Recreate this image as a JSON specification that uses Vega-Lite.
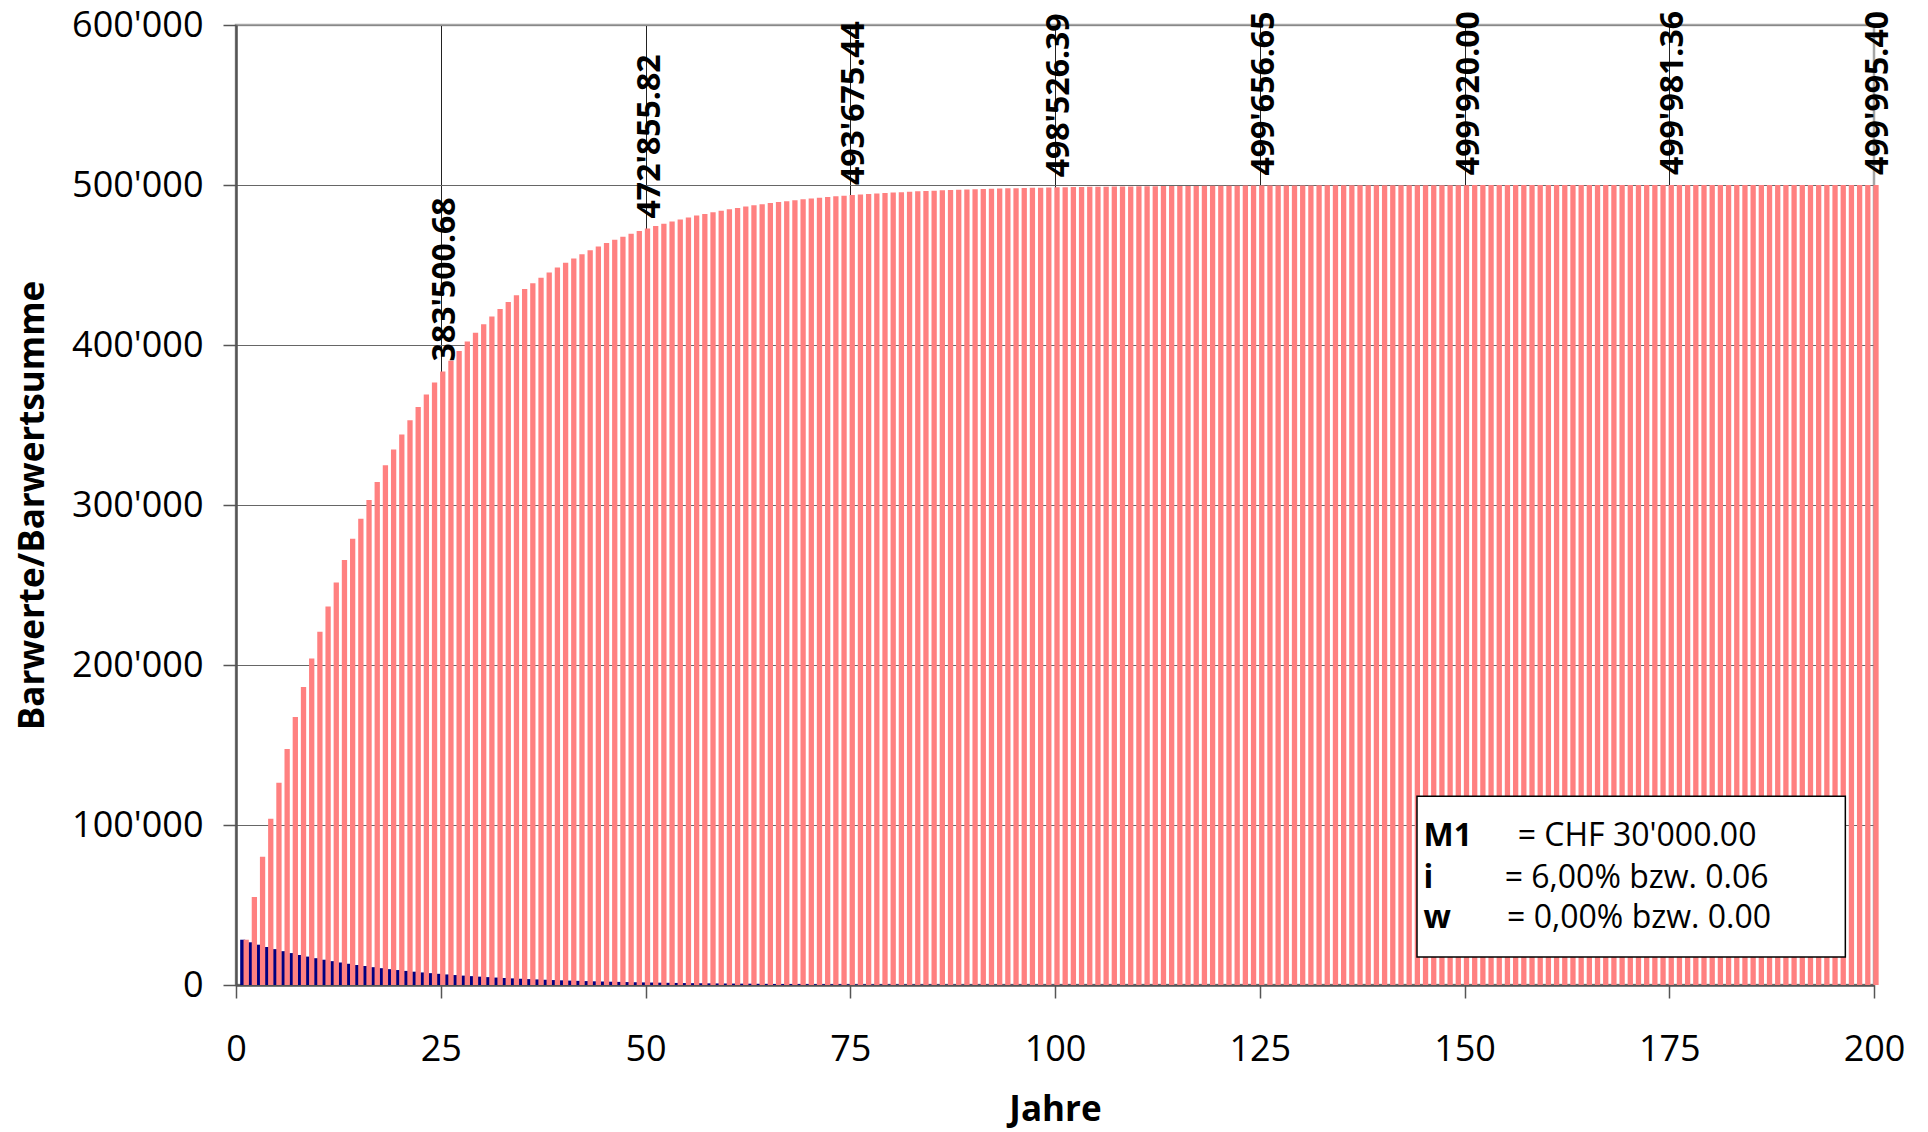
{
"$schema": "https://vega.github.io/schema/vega-lite/v6.json",
"width": 1638,
"height": 960,
"autosize": "none",
"padding": {"left": 236, "top": 25, "right": 54, "bottom": 147},
"background": "white",
"config": {
  "locale": {"number": {"decimal": ".", "thousands": "'", "grouping": [3], "currency": ["", ""]}},
  "font": "Open Sans",
  "view": {"stroke": "#a6a6a6", "strokeWidth": 2.5}
},
"datasets": {
"pv": [
{"t":1,"b":28301.89,"s":28301.89},{"t":2,"b":26699.90,"s":55001.79},{"t":3,"b":25188.58,"s":80190.37},{"t":4,"b":23762.81,"s":103953.2},{"t":5,"b":22417.75,"s":126370.8},
{"t":6,"b":21148.82,"s":147519.7},{"t":7,"b":19951.71,"s":167471.5},{"t":8,"b":18822.37,"s":186293.8},{"t":9,"b":17756.95,"s":204050.8},{"t":10,"b":16751.84,"s":220802.7},
{"t":11,"b":15803.62,"s":236606.3},{"t":12,"b":14909.08,"s":251515.3},{"t":13,"b":14065.17,"s":265580.5},{"t":14,"b":13269.03,"s":278849.5},{"t":15,"b":12517.96,"s":291367.3},
{"t":16,"b":11809.40,"s":303176.7},{"t":17,"b":11140.94,"s":314317.7},{"t":18,"b":10510.32,"s":324828.0},{"t":19,"b":9915.39,"s":334743.5},{"t":20,"b":9354.15,"s":344097.5},
{"t":21,"b":8824.66,"s":352922.3},{"t":22,"b":8325.15,"s":361247.5},{"t":23,"b":7853.92,"s":369101.3},{"t":24,"b":7409.36,"s":376510.7},{"t":25,"b":6989.96,"s":383500.68},
{"t":26,"b":6594.30,"s":390095.0},{"t":27,"b":6221.04,"s":396316.0},{"t":28,"b":5868.91,"s":402184.8},{"t":29,"b":5536.71,"s":407721.5},{"t":30,"b":5223.33,"s":412944.5},
{"t":31,"b":4927.67,"s":417872.2},{"t":32,"b":4648.75,"s":422520.8},{"t":33,"b":4385.61,"s":426906.5},{"t":34,"b":4137.37,"s":431043.8},{"t":35,"b":3903.18,"s":434947.0},
{"t":36,"b":3682.25,"s":438629.2},{"t":37,"b":3473.82,"s":442103.0},{"t":38,"b":3277.19,"s":445380.2},{"t":39,"b":3091.69,"s":448471.8},{"t":40,"b":2916.67,"s":451388.8},
{"t":41,"b":2751.58,"s":454140.3},{"t":42,"b":2595.83,"s":456736.2},{"t":43,"b":2448.90,"s":459185.0},{"t":44,"b":2310.28,"s":461495.3},{"t":45,"b":2179.51,"s":463674.8},
{"t":46,"b":2056.14,"s":465731.0},{"t":47,"b":1939.75,"s":467670.8},{"t":48,"b":1829.95,"s":469500.8},{"t":49,"b":1726.37,"s":471227.2},{"t":50,"b":1628.65,"s":472855.82},
{"t":51,"b":1536.46,"s":474392.3},{"t":52,"b":1449.49,"s":475841.8},{"t":53,"b":1367.44,"s":477209.3},{"t":54,"b":1290.04,"s":478499.3},{"t":55,"b":1217.02,"s":479716.3},
{"t":56,"b":1148.13,"s":480864.5},{"t":57,"b":1083.14,"s":481947.7},{"t":58,"b":1021.83,"s":482969.5},{"t":59,"b":963.99,"s":483933.5},{"t":60,"b":909.43,"s":484842.8},
{"t":61,"b":857.95,"s":485700.8},{"t":62,"b":809.39,"s":486510.2},{"t":63,"b":763.57,"s":487273.8},{"t":64,"b":720.35,"s":487994.2},{"t":65,"b":679.58,"s":488673.7},
{"t":66,"b":641.11,"s":489314.8},{"t":67,"b":604.82,"s":489919.7},{"t":68,"b":570.58,"s":490490.3},{"t":69,"b":538.28,"s":491028.7},{"t":70,"b":507.82,"s":491536.3},
{"t":71,"b":479.07,"s":492015.5},{"t":72,"b":451.95,"s":492467.5},{"t":73,"b":426.37,"s":492893.8},{"t":74,"b":402.24,"s":493296.0},{"t":75,"b":379.47,"s":493675.44},
{"t":76,"b":357.99,"s":494033.5},{"t":77,"b":337.73,"s":494371.2},{"t":78,"b":318.61,"s":494689.8},{"t":79,"b":300.58,"s":494990.3},{"t":80,"b":283.56,"s":495274.0},
{"t":81,"b":267.51,"s":495541.5},{"t":82,"b":252.37,"s":495793.8},{"t":83,"b":238.08,"s":496032.0},{"t":84,"b":224.61,"s":496256.5},{"t":85,"b":211.89,"s":496468.5},
{"t":86,"b":199.90,"s":496668.3},{"t":87,"b":188.58,"s":496857.0},{"t":88,"b":177.91,"s":497034.8},{"t":89,"b":167.84,"s":497202.7},{"t":90,"b":158.34,"s":497361.0},
{"t":91,"b":149.38,"s":497510.3},{"t":92,"b":140.92,"s":497651.3},{"t":93,"b":132.94,"s":497784.3},{"t":94,"b":125.42,"s":497909.7},{"t":95,"b":118.32,"s":498028.0},
{"t":96,"b":111.62,"s":498139.7},{"t":97,"b":105.30,"s":498245.0},{"t":98,"b":99.34,"s":498344.3},{"t":99,"b":93.72,"s":498438.0},{"t":100,"b":88.42,"s":498526.39},
{"t":101,"b":83.41,"s":498609.8},{"t":102,"b":78.69,"s":498688.5},{"t":103,"b":74.24,"s":498762.7},{"t":104,"b":70.03,"s":498832.8},{"t":105,"b":66.07,"s":498898.8},
{"t":106,"b":62.33,"s":498961.2},{"t":107,"b":58.80,"s":499020.0},{"t":108,"b":55.47,"s":499075.5},{"t":109,"b":52.33,"s":499127.8},{"t":110,"b":49.37,"s":499177.2},
{"t":111,"b":46.58,"s":499223.7},{"t":112,"b":43.94,"s":499267.7},{"t":113,"b":41.45,"s":499309.2},{"t":114,"b":39.11,"s":499348.2},{"t":115,"b":36.89,"s":499385.2},
{"t":116,"b":34.80,"s":499420.0},{"t":117,"b":32.83,"s":499452.8},{"t":118,"b":30.98,"s":499483.7},{"t":119,"b":29.22,"s":499513.0},{"t":120,"b":27.57,"s":499540.5},
{"t":121,"b":26.01,"s":499566.5},{"t":122,"b":24.54,"s":499591.0},{"t":123,"b":23.15,"s":499614.2},{"t":124,"b":21.84,"s":499636.0},{"t":125,"b":20.60,"s":499656.65},
{"t":126,"b":19.44,"s":499676.0},{"t":127,"b":18.34,"s":499694.3},{"t":128,"b":17.30,"s":499711.7},{"t":129,"b":16.32,"s":499728.0},{"t":130,"b":15.40,"s":499743.3},
{"t":131,"b":14.52,"s":499758.0},{"t":132,"b":13.70,"s":499771.7},{"t":133,"b":12.93,"s":499784.5},{"t":134,"b":12.19,"s":499796.8},{"t":135,"b":11.50,"s":499808.3},
{"t":136,"b":10.85,"s":499819.2},{"t":137,"b":10.24,"s":499829.3},{"t":138,"b":9.66,"s":499839.0},{"t":139,"b":9.11,"s":499848.2},{"t":140,"b":8.60,"s":499856.7},
{"t":141,"b":8.11,"s":499864.8},{"t":142,"b":7.65,"s":499872.5},{"t":143,"b":7.22,"s":499879.7},{"t":144,"b":6.81,"s":499886.5},{"t":145,"b":6.43,"s":499892.8},
{"t":146,"b":6.06,"s":499899.0},{"t":147,"b":5.72,"s":499904.7},{"t":148,"b":5.40,"s":499910.0},{"t":149,"b":5.09,"s":499915.2},{"t":150,"b":4.80,"s":499920.00},
{"t":151,"b":4.53,"s":499924.5},{"t":152,"b":4.27,"s":499928.8},{"t":153,"b":4.03,"s":499932.8},{"t":154,"b":3.80,"s":499936.7},{"t":155,"b":3.59,"s":499940.2},
{"t":156,"b":3.39,"s":499943.5},{"t":157,"b":3.19,"s":499946.8},{"t":158,"b":3.01,"s":499949.8},{"t":159,"b":2.84,"s":499952.7},{"t":160,"b":2.68,"s":499955.3},
{"t":161,"b":2.53,"s":499957.8},{"t":162,"b":2.39,"s":499960.2},{"t":163,"b":2.25,"s":499962.5},{"t":164,"b":2.12,"s":499964.7},{"t":165,"b":2.00,"s":499966.7},
{"t":166,"b":1.89,"s":499968.5},{"t":167,"b":1.78,"s":499970.3},{"t":168,"b":1.68,"s":499972.0},{"t":169,"b":1.59,"s":499973.5},{"t":170,"b":1.50,"s":499975.0},
{"t":171,"b":1.41,"s":499976.5},{"t":172,"b":1.33,"s":499977.8},{"t":173,"b":1.26,"s":499979.0},{"t":174,"b":1.19,"s":499980.2},{"t":175,"b":1.12,"s":499981.36},
{"t":176,"b":1.05,"s":499982.4},{"t":177,"b":1.00,"s":499983.3},{"t":178,"b":0.94,"s":499984.2},{"t":179,"b":0.89,"s":499985.0},{"t":180,"b":0.84,"s":499985.8},
{"t":181,"b":0.79,"s":499986.6},{"t":182,"b":0.74,"s":499987.3},{"t":183,"b":0.70,"s":499988.0},{"t":184,"b":0.66,"s":499988.6},{"t":185,"b":0.62,"s":499989.2},
{"t":186,"b":0.59,"s":499989.8},{"t":187,"b":0.56,"s":499990.3},{"t":188,"b":0.52,"s":499990.8},{"t":189,"b":0.49,"s":499991.3},{"t":190,"b":0.47,"s":499991.8},
{"t":191,"b":0.44,"s":499992.2},{"t":192,"b":0.42,"s":499992.6},{"t":193,"b":0.39,"s":499993.0},{"t":194,"b":0.37,"s":499993.4},{"t":195,"b":0.35,"s":499993.7},
{"t":196,"b":0.33,"s":499994.1},{"t":197,"b":0.31,"s":499994.4},{"t":198,"b":0.29,"s":499994.8},{"t":199,"b":0.28,"s":499995.1},{"t":200,"b":0.26,"s":499995.40}
],
"box": [{"x1": 144.2, "x2": 196.5, "y1": 17500, "y2": 118000}],
"infoBold": [
{"x": 145.0, "y": 86900, "txt": "M1"},
{"x": 145.0, "y": 60600, "txt": "i"},
{"x": 145.0, "y": 35600, "txt": "w"}
],
"infoText": [
{"x": 156.5, "y": 86900, "txt": "= CHF 30'000.00"},
{"x": 154.9, "y": 60600, "txt": "= 6,00% bzw. 0.06"},
{"x": 155.2, "y": 35600, "txt": "= 0,00% bzw. 0.00"}
]
},
"layer": [
{
  "data": {"name": "pv"},
  "mark": {"type": "bar", "color": "#000080", "width": 5, "xOffset": -1.5},
  "encoding": {
    "x": {"field": "t", "type": "quantitative",
      "scale": {"domain": [0, 200], "nice": false, "zero": false, "padding": 0},
      "axis": {"values": [0, 25, 50, 75, 100, 125, 150, 175, 200], "title": "Jahre",
        "grid": true, "gridColor": {"condition": {"test": "datum.value == 200 || datum.value == 0", "value": "transparent"}, "value": "#222222"}, "gridWidth": 1,
        "domainColor": "#555555", "domainWidth": 2.5, "tickColor": "#555555", "tickWidth": 1.5, "tickSize": 13,
        "labelFont": "Open Sans", "labelFontSize": 36, "labelColor": "#000000", "labelPadding": 34, "labelFlush": false,
        "titleFont": "Open Sans", "titleFontSize": 35, "titleFontWeight": "bold", "titleColor": "#000000", "titlePadding": 25}},
    "y": {"field": "b", "type": "quantitative",
      "scale": {"domain": [0, 600000], "nice": false, "padding": 0},
      "axis": {"values": [0, 100000, 200000, 300000, 400000, 500000, 600000], "format": ",d", "title": "Barwerte/Barwertsumme",
        "grid": true, "gridColor": {"condition": {"test": "datum.value == 600000", "value": "#888888"}, "value": "#666666"}, "gridWidth": 1,
        "domainColor": "#555555", "domainWidth": 2.5, "tickColor": "#555555", "tickWidth": 1.5, "tickSize": 13,
        "labelFont": "Open Sans", "labelFontSize": 36, "labelColor": "#000000", "labelPadding": 20,
        "titleFont": "Open Sans", "titleFontSize": 35, "titleFontWeight": "bold", "titleColor": "#000000", "titlePadding": 21}}
  }
},
{
  "data": {"name": "pv"},
  "mark": {"type": "bar", "color": "#FF8080", "width": 5.3, "xOffset": 2},
  "encoding": {
    "x": {"field": "t", "type": "quantitative"},
    "y": {"field": "s", "type": "quantitative"}
  }
},
{
  "data": {"name": "pv"},
  "transform": [{"filter": "datum.t % 25 == 0"}],
  "mark": {"type": "text", "angle": 270, "align": "left", "baseline": "middle", "dx": 10, "dy": 4, "font": "Open Sans", "fontSize": 32, "fontWeight": "bold", "color": "#000000"},
  "encoding": {
    "x": {"field": "t", "type": "quantitative"},
    "y": {"field": "s", "type": "quantitative"},
    "text": {"field": "s", "type": "quantitative", "format": ",.2f"}
  }
},
{
  "data": {"name": "box"},
  "mark": {"type": "rect", "fill": "#ffffff", "stroke": "#000000", "strokeWidth": 1.5},
  "encoding": {
    "x": {"field": "x1", "type": "quantitative"},
    "x2": {"field": "x2"},
    "y": {"field": "y1", "type": "quantitative"},
    "y2": {"field": "y2"}
  }
},
{
  "data": {"name": "infoBold"},
  "mark": {"type": "text", "align": "left", "baseline": "alphabetic", "font": "Open Sans", "fontSize": 32, "fontWeight": "bold", "color": "#000000"},
  "encoding": {
    "x": {"field": "x", "type": "quantitative"},
    "y": {"field": "y", "type": "quantitative"},
    "text": {"field": "txt", "type": "nominal"}
  }
},
{
  "data": {"name": "infoText"},
  "mark": {"type": "text", "align": "left", "baseline": "alphabetic", "font": "Open Sans", "fontSize": 32, "fontWeight": "normal", "color": "#000000"},
  "encoding": {
    "x": {"field": "x", "type": "quantitative"},
    "y": {"field": "y", "type": "quantitative"},
    "text": {"field": "txt", "type": "nominal"}
  }
}
]
}
